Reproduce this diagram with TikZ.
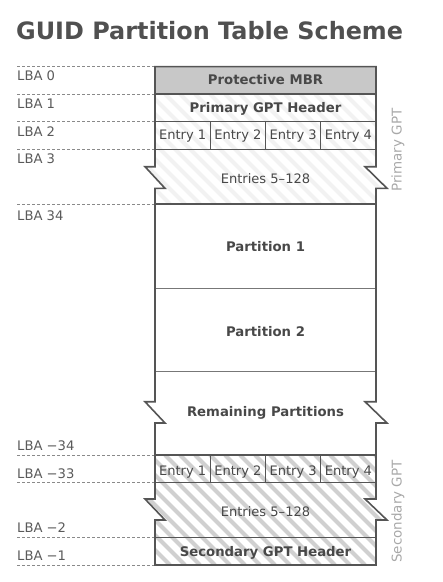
\documentclass[tikz,border=0pt]{standalone}
\usepackage{fontspec}
\setmainfont{DejaVu Sans}
\definecolor{titlecol}{HTML}{505050}
\definecolor{boxline}{HTML}{555555}
\definecolor{txt}{HTML}{484848}
\definecolor{lbl}{HTML}{5A5A5A}
\definecolor{side}{HTML}{A8A8A8}
\definecolor{mbrfill}{HTML}{C8C8C8}
\definecolor{hatchdark}{HTML}{D0D0D0}
\definecolor{hatchlight}{HTML}{F2F2F2}
\definecolor{guidecol}{HTML}{8A8A8A}
\begin{document}
\begin{tikzpicture}[x=1bp,y=-1bp,
  boxtext/.style={anchor=base,inner sep=0pt,text=txt,font=\fontsize{13.1}{15}\selectfont},
  boldtext/.style={boxtext,font=\fontsize{13.3}{15}\selectfont\bfseries},
  lbatext/.style={anchor=base west,inner sep=0pt,text=lbl,font=\fontsize{13.2}{15}\selectfont},
  sidetext/.style={rotate=90,anchor=center,inner sep=0pt,text=side,font=\fontsize{13.5}{15}\selectfont},
  guide/.style={draw=guidecol,line width=0.8bp,dash pattern=on 3bp off 2bp},
  outline/.style={draw=boxline,line width=1.6bp,line join=miter},
  divider/.style={draw=boxline,line width=1.1bp},
  thindiv/.style={draw=boxline!80,line width=0.8bp},
  hatchline/.style={line width=4bp}
]
\useasboundingbox (0,0) rectangle (443,582);

% title
\node[anchor=base west,inner sep=0pt,text=titlecol,font=\fontsize{24}{28}\selectfont\bfseries] (title) at (16,40) {GUID Partition Table Scheme};

% fills
\fill[mbrfill] (155,66.7) rectangle (376,94);
\begin{scope}
  \clip (155,94) -- (376,94) -- (376,166.7) -- (365,166.7) -- (387,188.3) -- (376,188.3) -- (376,204.3)
        -- (155,204.3) -- (155,188.3) -- (165,188.3) -- (145,166.7) -- (155,166.7) -- cycle;
  \foreach \a in {30,45,...,390} \draw[hatchline,hatchlight] (\a,94) -- ++(110,110);
\end{scope}
\begin{scope}
  \clip (155,455) -- (376,455) -- (376,499) -- (365,499) -- (387,520) -- (376,520) -- (376,565)
        -- (155,565) -- (155,520) -- (165,520) -- (145,499) -- (155,499) -- cycle;
  \foreach \a in {30,45,...,390} \draw[hatchline,hatchdark] (\a,455) -- ++(110,110);
\end{scope}

% guide lines
\foreach \y/\n in {66.7/a,94/b,121.7/c,149.3/d,204.3/e,455/f,482.3/g,537.3/h,565/i}{
  \coordinate (gl\n) at (17,\y);
  \coordinate (gr\n) at (155,\y);
  \draw[guide] (gl\n) -- (gr\n);
}

% inner dividers
\draw[divider] (155,94) -- (376,94);
\draw[divider] (155,121.7) -- (376,121.7);
\draw[divider] (155,149.3) -- (376,149.3);
\draw[draw=boxline,line width=2bp] (155,204.3) -- (376,204.3);
\draw[thindiv] (155,288.3) -- (376,288.3);
\draw[thindiv] (155,371.7) -- (376,371.7);
\draw[divider] (155,455) -- (376,455);
\draw[divider] (155,482.3) -- (376,482.3);
\draw[divider] (155,537.3) -- (376,537.3);
\foreach \x in {210.25,265.5,320.75}{
  \draw[divider] (\x,121.7) -- (\x,149.3);
  \draw[divider] (\x,455) -- (\x,482.3);
}

% outline
\draw[outline] (155,66.7) -- (376,66.7)
  -- (376,166.7) -- (365,166.7) -- (387,188.3) -- (376,188.3)
  -- (376,401.7) -- (365,401.7) -- (387,423) -- (376,423)
  -- (376,499) -- (365,499) -- (387,520) -- (376,520)
  -- (376,565) -- (155,565)
  -- (155,520) -- (165,520) -- (145,499) -- (155,499)
  -- (155,423) -- (165,423) -- (145,401.7) -- (155,401.7)
  -- (155,188.3) -- (165,188.3) -- (145,166.7) -- (155,166.7)
  -- cycle;

% box texts
\node[boldtext] (mbr) at (265.5,85) {Protective MBR};
\node[boldtext] (phdr) at (265.5,113) {Primary GPT Header};
\node[boxtext] (pe1) at (182.6,140) {Entry 1};
\node[boxtext] (pe2) at (237.9,140) {Entry 2};
\node[boxtext] (pe3) at (293.1,140) {Entry 3};
\node[boxtext] (pe4) at (348.4,140) {Entry 4};
\node[boxtext] (pent) at (265.5,183.3) {Entries 5–128};
\node[boldtext] (part1) at (265.5,251.7) {Partition 1};
\node[boldtext] (part2) at (265.5,336.7) {Partition 2};
\node[boldtext] (rem) at (265.5,416.7) {Remaining Partitions};
\node[boxtext] (se1) at (182.6,475.7) {Entry 1};
\node[boxtext] (se2) at (237.9,475.7) {Entry 2};
\node[boxtext] (se3) at (293.1,475.7) {Entry 3};
\node[boxtext] (se4) at (348.4,475.7) {Entry 4};
\node[boxtext] (sent) at (265.5,516) {Entries 5–128};
\node[boldtext] (shdr) at (265.5,556) {Secondary GPT Header};

% LBA labels
\node[lbatext] (l0) at (17,81) {LBA 0};
\node[lbatext] (l1) at (17,109) {LBA 1};
\node[lbatext] (l2) at (17,136.7) {LBA 2};
\node[lbatext] (l3) at (17,164) {LBA 3};
\node[lbatext] (l34) at (17,220) {LBA 34};
\node[lbatext] (lm34) at (17,450.7) {LBA −34};
\node[lbatext] (lm33) at (17,478.3) {LBA −33};
\node[lbatext] (lm2) at (17,532.7) {LBA −2};
\node[lbatext] (lm1) at (17,560.7) {LBA −1};

% side labels
\node[sidetext] (pgpt) at (398,150) {Primary GPT};
\node[sidetext] (sgpt) at (398,511.5) {Secondary GPT};
\end{tikzpicture}
\end{document}
